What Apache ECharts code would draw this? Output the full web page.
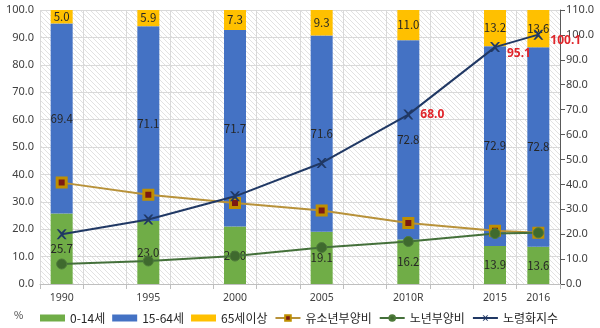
<!DOCTYPE html>
<html>
<head>
<meta charset="utf-8">
<script src="https://cdn.jsdelivr.net/npm/echarts@6/dist/echarts.min.js"></script>
<style>
  html, body { margin: 0; padding: 0; background: #fff; }
  #chart { width: 600px; height: 328px; }
</style>
</head>
<body>
<div id="chart"></div>
<script>
// Census years; empty slots keep the 5-year spacing between the early years
const years = ['1990', '', '1995', '', '2000', '', '2005', '', '2010R', '', '2015', '2016'];

// Population share by age group (%)
const age0to14  = [25.7, null, 23.0, null, 21.0, null, 19.1, null, 16.2, null, 13.9, 13.6];
const age15to64 = [69.4, null, 71.1, null, 71.7, null, 71.6, null, 72.8, null, 72.9, 72.8];
const age65plus = [5.0, null, 5.9, null, 7.3, null, 9.3, null, 11.0, null, 13.2, 13.6];

// Dependency ratios (left axis) and ageing index (right axis)
const youthDependency = [37.0, null, 32.6, null, 29.6, null, 26.8, null, 22.3, null, 19.4, 18.7];
const oldDependency   = [7.3, null, 8.4, null, 10.2, null, 13.3, null, 15.5, null, 18.4, 18.7];
const agingIndex      = [20.0, null, 25.9, null, 35.2, null, 48.6, null, 68.0, null, 95.1, 100.1];
const agingLabelled   = ['2010R', '2015', '2016'];

const leftTicks  = { min: 0, max: 100, interval: 10 };
const rightTicks = { min: 0, max: 110, interval: 10 };

// Light diagonal hatching for the plot background
function hatch() {
  const c = document.createElement('canvas');
  c.width = 5; c.height = 5;
  const g = c.getContext('2d');
  g.fillStyle = '#ffffff';
  g.fillRect(0, 0, 5, 5);
  g.strokeStyle = '#e2e2e2';
  g.lineWidth = 1;
  g.beginPath();
  g.moveTo(0, 0); g.lineTo(5, 5);
  g.moveTo(-3, 2); g.lineTo(3, 8);
  g.moveTo(2, -3); g.lineTo(8, 3);
  g.stroke();
  return c;
}

const font = '"Noto Sans CJK KR", "Noto Sans", sans-serif';

function barSeries(name, data, color) {
  return {
    name, type: 'bar', stack: 'pop', data, barWidth: 22,
    itemStyle: { color },
    label: {
      show: true, position: 'inside', color: '#262626',
      fontSize: 11.5, fontFamily: font,
      formatter: p => p.value == null ? '' : p.value.toFixed(1)
    },
    z: 2
  };
}

const chart = echarts.init(document.getElementById('chart'));
chart.setOption({
  animation: false,
  textStyle: { fontFamily: font },
  grid: {
    left: 40, right: 40, top: 10, bottom: 44,
    show: true, borderWidth: 0,
    backgroundColor: { image: hatch(), repeat: 'repeat' }
  },
  graphic: [{
    type: 'text', left: 14, top: 310,
    style: { text: '%', fontSize: 10, fill: '#404040', fontFamily: font }
  }],
  legend: {
    left: 35, top: 307, itemGap: 7, itemWidth: 25, itemHeight: 7,
    textStyle: { fontSize: 12, color: '#262626', fontFamily: font },
    data: [
      { name: '0-14세', icon: 'rect' },
      { name: '15-64세', icon: 'rect' },
      { name: '65세이상', icon: 'rect' },
      '유소년부양비', '노년부양비', '노령화지수'
    ]
  },
  xAxis: {
    type: 'category', data: years, boundaryGap: true,
    axisLine: { lineStyle: { color: '#bfbfbf' } },
    axisTick: { show: true, interval: 0, length: 5, lineStyle: { color: '#bfbfbf' } },
    axisLabel: { interval: 0, color: '#404040', fontSize: 10.5, margin: 9, fontFamily: 'Noto Sans' },
    splitLine: { show: true, interval: 0, lineStyle: { color: '#d9d9d9' } }
  },
  yAxis: [{
    type: 'value', ...leftTicks,
    axisLine: { show: false }, axisTick: { show: false },
    axisLabel: { color: '#404040', fontSize: 11, formatter: v => v.toFixed(1), fontFamily: 'Noto Sans', margin: 6 },
    splitLine: { lineStyle: { color: '#d9d9d9' } }
  }, {
    type: 'value', ...rightTicks, position: 'right',
    axisLine: { show: true, lineStyle: { color: '#595959' } },
    axisTick: { show: true, length: 5, lineStyle: { color: '#595959' } },
    axisLabel: { color: '#404040', fontSize: 11, formatter: v => v.toFixed(1), fontFamily: 'Noto Sans', margin: 6 },
    splitLine: { show: false }
  }],
  series: [
    barSeries('0-14세', age0to14, '#70AD47'),
    barSeries('15-64세', age15to64, '#4472C4'),
    barSeries('65세이상', age65plus, '#FFC000'),
    {
      name: '유소년부양비', type: 'line', yAxisIndex: 0, data: youthDependency,
      connectNulls: true, symbol: 'rect', symbolSize: 9,
      lineStyle: { color: '#B8923A', width: 2 },
      itemStyle: { color: '#7B1A14', borderColor: '#BF8F00', borderWidth: 3 },
      z: 5
    },
    {
      name: '노년부양비', type: 'line', yAxisIndex: 0, data: oldDependency,
      connectNulls: true, symbol: 'circle', symbolSize: 10,
      lineStyle: { color: '#44703A', width: 2 },
      itemStyle: { color: '#3F6A2E', borderColor: '#4E7A3A', borderWidth: 1 },
      z: 5
    },
    {
      name: '노령화지수', type: 'line', yAxisIndex: 1,
      data: agingIndex.map((v, i) => ({
        value: v,
        label: agingLabelled.includes(years[i]) ? {
          show: true, position: 'right',
          offset: years[i] === '2010R' ? [2, 0] : [2, 6],
          color: '#E0262B', fontWeight: 'bold', fontSize: 12,
          fontFamily: 'Noto Sans', formatter: p => p.value.toFixed(1)
        } : { show: false }
      })),
      connectNulls: true,
      symbol: 'path://M0,0 L2,0 L5,3 L8,0 L10,0 L6,5 L10,10 L8,10 L5,7 L2,10 L0,10 L4,5 Z',
      symbolSize: 10,
      lineStyle: { color: '#203864', width: 2 },
      itemStyle: { color: '#203864' },
      z: 6
    }
  ]
});
</script>
</body>
</html>
